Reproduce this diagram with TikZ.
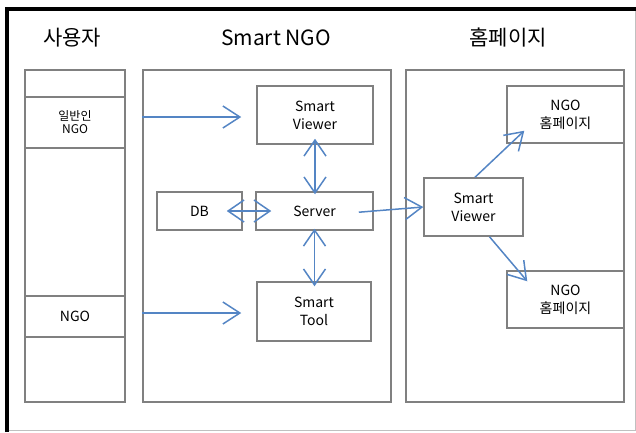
\documentclass[tikz,border=0pt]{standalone}
\usepackage{fontspec}
\setmainfont{Noto Sans CJK KR}
\usetikzlibrary{arrows.meta,positioning}
\definecolor{teulsaek}{RGB}{128,128,128}
\definecolor{paran}{RGB}{84,133,196}
\tikzset{
  kan/.style={draw=teulsaek,line width=1.5pt,fill=white,align=center,inner sep=0pt,
    font=\fontsize{14}{18}\selectfont},
  teul/.style={draw=teulsaek,line width=1.5pt},
  hwal/.style={paran,line width=1.5pt,-{Straight Barb[length=17pt,width=22pt]}},
  yang/.style={paran,line width=1.5pt,{Straight Barb[length=16pt,width=22pt]}-{Straight Barb[length=16pt,width=22pt]}},
  jemok/.style={font=\fontsize{21}{24}\selectfont},
}
\begin{document}
\begin{tikzpicture}[x=1pt,y=-1pt]
  \useasboundingbox (0,0) rectangle (636,432);
  % outer frame
  \draw[teulsaek!50,line width=1pt] (7,430.5) -- (635.5,430.5) -- (635.5,9);
  \draw[line width=4pt] (7,432) -- (7,9) -- (636,9);
  % column titles
  \node[jemok] (t1) at (72,38) {사용자};
  \node[jemok] (t2) at (276,38) {Smart NGO};
  \node[jemok] (t3) at (508,38) {홈페이지};
  % users column
  \draw[teul] (25,70) rectangle (125,402);
  \foreach \y in {97,148,296,337} \draw[teul] (25,\y) -- (125,\y);
  \node[font=\fontsize{12}{13}\selectfont,align=center] (u1) at (75,122) {일반인\\NGO};
  \node[font=\fontsize{14}{16}\selectfont] (u2) at (75,316) {NGO};
  % panels
  \node[teul,minimum width=248,minimum height=332] (sng) at (267,236) {};
  \node[teul,minimum width=218,minimum height=332] (hp) at (515,236) {};
  % boxes
  \node[kan,minimum width=116,minimum height=58] (sv1) at (315,115) {Smart\\Viewer};
  \node[kan,minimum width=85,minimum height=38] (db) at (199.5,211) {DB};
  \node[kan,minimum width=117,minimum height=38] (srv) at (314.5,211) {Server};
  \node[kan,minimum width=114,minimum height=59] (tool) at (314,311.5) {Smart\\Tool};
  \node[kan,minimum width=99,minimum height=58] (sv2) at (473.5,207) {Smart\\Viewer};
  \node[kan,minimum width=117,minimum height=57] (ngo1) at (565.5,114.5) {NGO\\홈페이지};
  \node[kan,minimum width=117,minimum height=57] (ngo2) at (565.5,299.5) {NGO\\홈페이지};
  % connectors
  \draw[hwal,shorten >=15pt] ([yshift=-2pt]sng.west |- sv1) -- ([yshift=-2pt]sv1.west);
  \draw[hwal,shorten >=15pt] ([yshift=-1.5pt]sng.west |- tool) -- ([yshift=-1.5pt]tool.west);
  \draw[yang,shorten <=-6pt,shorten >=-3pt] (sv1.south) -- (sv1.south |- srv.north);
  \draw[yang,shorten <=-2pt,shorten >=-5pt] (srv.south) -- (srv.south |- tool.north);
  \draw[yang,shorten <=-16pt,shorten >=-16pt] (db.east) -- (srv.west);
  \draw[hwal,shorten <=-15pt] (srv.east) -- (sv2.west);
  \draw[hwal] ([xshift=1.5pt]sv2.north) -- ([xshift=18pt,yshift=13pt]ngo1.south west);
  \draw[hwal] ([xshift=16pt]sv2.south) -- ([xshift=21pt,yshift=-11pt]ngo2.north west);
\end{tikzpicture}
\end{document}
